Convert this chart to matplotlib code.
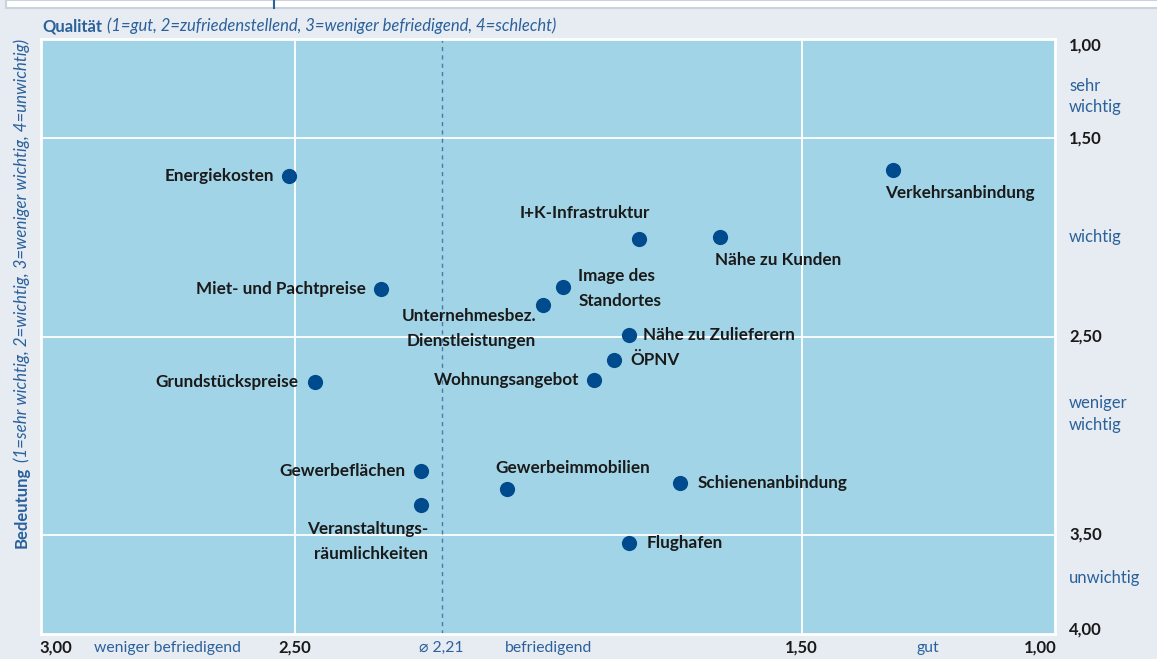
import matplotlib
matplotlib.use('Agg')
import matplotlib.pyplot as plt
from matplotlib.patches import Rectangle
from matplotlib.lines import Line2D
import matplotlib.transforms as mtransforms

# data: x = Qualitaet, y = Bedeutung
names = ['Energiekosten', 'Verkehrsanbindung', 'I+K-Infrastruktur', 'Nähe zu Kunden',
         'Miet- und Pachtpreise', 'Image des\nStandortes', 'Unternehmesbez.\nDienstleistungen',
         'Nähe zu Zulieferern', 'ÖPNV', 'Wohnungsangebot', 'Grundstückspreise',
         'Gewerbeflächen', 'Veranstaltungs-\nräumlichkeiten', 'Gewerbeimmobilien',
         'Schienenanbindung', 'Flughafen']
qualitaet = [2.51, 1.32, 1.82, 1.66, 2.33, 1.97, 2.01, 1.84, 1.87, 1.91, 2.46,
             2.25, 2.25, 2.08, 1.74, 1.84]
bedeutung = [1.69, 1.66, 2.01, 2.00, 2.26, 2.25, 2.34, 2.49, 2.62, 2.72, 2.73,
             3.18, 3.35, 3.27, 3.24, 3.54]
mittel_q = 2.21
y_ticks = [1.00, 1.50, 2.50, 3.50, 4.00]
y_cats = ['sehr\nwichtig', 'wichtig', 'weniger\nwichtig', 'unwichtig']
y_cat_pos = [1.29, 2.0, 2.89, 3.72]
x_grid = [2.5, 1.5]
x_labels = ['3,00', 'weniger befriedigend', '2,50', '\u2300 2,21', 'befriedigend', '1,50', 'gut', '1,00']
x_label_pos = [2.97, 2.75, 2.5, 2.21, 2.0, 1.5, 1.25, 1.03]
x_label_blue = [False, True, False, True, True, False, True, False]

# label placement (offset in px, ha)
lab = [(-15, 0, 'right'), (-8, -23, 'left'), (11, 26, 'right'),
       (-5, -23, 'left'), (-15, 0, 'right'), (15, -2, 'left'),
       (-7, -24, 'right'), (14, 0, 'left'), (16, 0, 'left'),
       (-14, 0, 'right'), (-16, 0, 'right'), (-16, 0, 'right'),
       (7, -36, 'right'), (-12, 21, 'left'), (18, 0, 'left'),
       (18, 0, 'left')]
tick_shift = [-7, 0, 0, 0, 4]

BG = '#e7ebf2'
PLOT = '#a2d4e7'
DOT = '#004b8d'
BLUE = '#2a619b'
INK = '#1a1a1a'
plt.rcParams['font.family'] = ['Lato', 'DejaVu Sans']

W, H = 1157, 659
fig = plt.figure(figsize=(W/100, H/100), dpi=100, facecolor=BG)
ax = fig.add_axes([41/W, 1-634/H, (1055-41)/W, (634-39)/H])
ax.set_facecolor(PLOT)
ax.set_xlim(3, 1)
ax.set_ylim(4, 1)
for s in ax.spines.values():
  s.set_color('white')
  s.set_linewidth(2)
ax.set_xticks([])
ax.set_yticks([])

for gx in x_grid:
  ax.axvline(gx, color='white', lw=1.3, zorder=1)
for gy in y_ticks[1:-1]:
  ax.axhline(gy, color='white', lw=1.3, zorder=1)
ax.axvline(mittel_q, color='#4a78a8', lw=1, ls=(0, (3, 3)), zorder=1)

ax.scatter(qualitaet, bedeutung, s=120, color=DOT, zorder=3, linewidths=0)
for n, qx, by, (dx, dy, ha) in zip(names, qualitaet, bedeutung, lab):
  ax.annotate(n, (qx, by), xytext=(dx*0.72, dy*0.72), textcoords='offset points',
              ha=ha, va='center', multialignment=ha, fontsize=12.3, fontweight='bold',
              color=INK, linespacing=1.7)

# right axis labels
tr_r = mtransforms.blended_transform_factory(fig.transFigure, ax.transData)
for t, sh in zip(y_ticks, tick_shift):
  off = mtransforms.offset_copy(tr_r, fig=fig, y=sh*0.72, units='points')
  fig.text(1069/W, t, '{:.2f}'.format(t).replace('.', ','), transform=off,
           fontsize=12, fontweight='bold', color=INK, va='center', ha='left')
for c, p in zip(y_cats, y_cat_pos):
  fig.text(1069/W, p, c, transform=tr_r, fontsize=12, color=BLUE, va='center',
           ha='left', linespacing=1.45)

# bottom labels
tr_b = mtransforms.blended_transform_factory(ax.transData, fig.transFigure)
for l, p, b in zip(x_labels, x_label_pos, x_label_blue):
  fig.text(p, 1-648/H, l, transform=tr_b, fontsize=11.3 if b else 12,
           fontweight='normal' if b else 'bold', color=BLUE if b else INK,
           ha='center', va='center')

# titles: bold part, italic part chained behind it
t1 = fig.text(42/W, 1-26/H, 'Qualität', fontsize=12, fontweight='bold', color=BLUE,
              va='center')
fig.add_artist(plt.Annotation('(1=gut, 2=zufriedenstellend, 3=weniger befriedigend, 4=schlecht)',
               xy=(1, 0.5), xycoords=t1, xytext=(5*0.72, 0), textcoords='offset points',
               fontsize=12, style='italic', color=BLUE, va='center', ha='left'))
t2 = fig.text(22/W, 1-548/H, 'Bedeutung', fontsize=12, fontweight='bold', color=BLUE,
              rotation=90, ha='center', va='bottom')
fig.add_artist(plt.Annotation('(1=sehr wichtig, 2=wichtig, 3=weniger wichtig, 4=unwichtig)',
               xy=(0.5, 1), xycoords=t2, xytext=(0, 5*0.72), textcoords='offset points',
               fontsize=12.2, style='italic', color=BLUE, rotation=90, ha='center', va='bottom'))

# top strip of the page
fig.patches.append(Rectangle((6/W, 1-8/H), 1, 8/H, transform=fig.transFigure,
                             facecolor='white', edgecolor='#c8d3df', lw=1.5))
fig.lines.append(Line2D([274/W, 274/W], [1-8/H, 1], transform=fig.transFigure,
                        color='#2a619b', lw=1.5))

fig.savefig('out.png', dpi=100, facecolor=BG)
